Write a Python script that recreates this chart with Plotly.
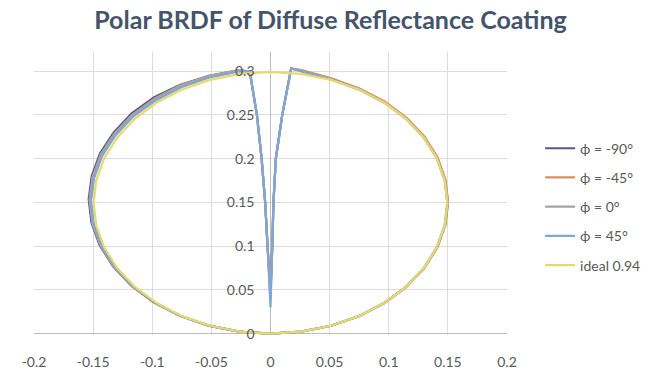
import numpy as np
import plotly.graph_objects as go

# Viewing angle theta (degrees from surface normal) for the measured scans
theta_meas = [-90, -85, -80, -75, -70, -65, -60, -55, -50, -45, -40, -35, -30, -25, -20, -15, -10, -5,
              -3.34, -2.63, -2.15, -1.72, -1.43, 0, 0.86, 0.95, 1.29, 2.27, 3.30,
              5, 10, 15, 20, 25, 30, 35, 40, 45, 50, 55, 60, 65, 70, 75, 80, 85, 90]

# BRDF values (1/sr) for each azimuth phi
brdf_phi_m90 = [0.306, 0.306, 0.307, 0.307, 0.3075, 0.3075, 0.3075, 0.3075, 0.3075, 0.3075, 0.307, 0.307,
                0.3065, 0.3065, 0.306, 0.305, 0.304, 0.3035,
                0.3005, 0.2503, 0.2001, 0.1501, 0.1000, 0.050, 0.1000, 0.1501, 0.2001, 0.2503, 0.3041,
                0.303, 0.3005, 0.300, 0.300, 0.300, 0.300, 0.300, 0.300, 0.300, 0.300, 0.300, 0.300,
                0.2995, 0.2995, 0.2995, 0.2995, 0.2995, 0.2995]
brdf_phi_m45 = [0.3045, 0.3045, 0.3055, 0.3055, 0.306, 0.306, 0.306, 0.306, 0.306, 0.306, 0.3055, 0.3055,
                0.305, 0.305, 0.3045, 0.3045, 0.304, 0.3035,
                0.3005, 0.2503, 0.2001, 0.1501, 0.1000, 0.045, 0.1000, 0.1501, 0.2001, 0.2503, 0.3041,
                0.3035, 0.301, 0.3005, 0.3005, 0.3005, 0.3005, 0.3005, 0.3005, 0.3005, 0.3005, 0.3005, 0.3005,
                0.300, 0.300, 0.300, 0.300, 0.300, 0.300]
brdf_phi_0 = [0.304, 0.304, 0.305, 0.305, 0.3055, 0.3055, 0.3055, 0.3055, 0.3055, 0.3055, 0.305, 0.305,
              0.3045, 0.3045, 0.304, 0.304, 0.3035, 0.3035,
              0.3005, 0.2503, 0.2001, 0.1501, 0.1000, 0.040, 0.1000, 0.1501, 0.2001, 0.2503, 0.3041,
              0.3025, 0.300, 0.2995, 0.2995, 0.2995, 0.2995, 0.2995, 0.2995, 0.2995, 0.2995, 0.2995, 0.2995,
              0.299, 0.299, 0.299, 0.299, 0.299, 0.299]
brdf_phi_45 = [0.302, 0.302, 0.303, 0.303, 0.3035, 0.3035, 0.3035, 0.3035, 0.3035, 0.3035, 0.303, 0.303,
               0.3025, 0.3025, 0.302, 0.302, 0.302, 0.302,
               0.3005, 0.2503, 0.2001, 0.1501, 0.1000, 0.030, 0.1000, 0.1501, 0.2001, 0.2503, 0.3041,
               0.302, 0.2995, 0.299, 0.299, 0.299, 0.299, 0.299, 0.299, 0.299, 0.299, 0.299, 0.299,
               0.2985, 0.2985, 0.2985, 0.2985, 0.2985, 0.2985]

# Ideal Lambertian reflector with reflectance 0.94 (BRDF = 0.94/pi)
theta_ideal = [-90, -85, -80, -75, -70, -65, -60, -55, -50, -45, -40, -35, -30, -25, -20, -15, -10, -5, 0,
               5, 10, 15, 20, 25, 30, 35, 40, 45, 50, 55, 60, 65, 70, 75, 80, 85, 90]
brdf_ideal = [0.2992, 0.2992, 0.2992, 0.2992, 0.2992, 0.2992, 0.2992, 0.2992, 0.2992, 0.2992,
              0.2992, 0.2992, 0.2992, 0.2992, 0.2992, 0.2992, 0.2992, 0.2992, 0.2992,
              0.2992, 0.2992, 0.2992, 0.2992, 0.2992, 0.2992, 0.2992, 0.2992, 0.2992,
              0.2992, 0.2992, 0.2992, 0.2992, 0.2992, 0.2992, 0.2992, 0.2992, 0.2992]

series_names = ["ϕ = -90°", "ϕ = -45°", "ϕ = 0°", "ϕ = 45°", "ideal 0.94"]
series_colors = ["#55578F", "#D9925E", "#A3A3AD", "#7FA7D6", "#E8DA6A"]

x_tickvals = [-0.2, -0.15, -0.1, -0.05, 0, 0.05, 0.1, 0.15, 0.2]
x_ticktext = ["-0.2", "-0.15", "-0.1", "-0.05", "0", "0.05", "0.1", "0.15", "0.2"]
y_tickvals = [0, 0.05, 0.1, 0.15, 0.2, 0.25, 0.3]
y_ticktext = ["0", "0.05", "0.1", "0.15", "0.2", "0.25", "0.3"]


def polar_xy(theta_deg, brdf):
    t = np.radians(np.array(theta_deg, dtype=float))
    r = np.array(brdf, dtype=float) * np.cos(t)  # projected (cosine-weighted) radius
    return r * np.sin(t), r * np.cos(t)


data_sets = [
    (theta_meas, brdf_phi_m90),
    (theta_meas, brdf_phi_m45),
    (theta_meas, brdf_phi_0),
    (theta_meas, brdf_phi_45),
    (theta_ideal, brdf_ideal),
]

fig = go.Figure()
for i, ((th, b), name, col) in enumerate(zip(data_sets, series_names, series_colors)):
    x, y = polar_xy(th, b)
    fig.add_trace(go.Scatter(
        x=x, y=y, mode="lines", name=name, legendgroup=f"g{i}",
        line=dict(color=col, width=2.2),
    ))

tick_font = dict(family="Lato", size=14, color="#595959")

fig.update_layout(
    width=661, height=382,
    paper_bgcolor="white", plot_bgcolor="white",
    margin=dict(l=34, r=154, t=52, b=41),
    title=dict(
        text="Polar BRDF of Diffuse Reflectance Coating",
        font=dict(family="Lato", size=25, color="#44546A", weight="bold"),
        x=0.5, xref="container", xanchor="center",
        y=1 - 20 / 382, yref="container", yanchor="middle",
    ),
    xaxis=dict(
        range=[-0.2, 0.2], domain=[0, 1],
        tickvals=x_tickvals, ticktext=x_ticktext,
        showgrid=True, gridcolor="#DDDDDD", gridwidth=1,
        zeroline=True, zerolinecolor="#BDBDBD", zerolinewidth=1,
        showline=False, ticks="", tickfont=tick_font,
        ticklabelstandoff=17, fixedrange=True,
    ),
    yaxis=dict(
        range=[-0.0015, 0.322],
        anchor="free", position=0.5,
        tickvals=y_tickvals, ticktext=y_ticktext,
        showgrid=True, gridcolor="#DDDDDD", gridwidth=1,
        zeroline=True, zerolinecolor="#BDBDBD", zerolinewidth=1,
        showline=False, ticks="", tickfont=tick_font,
        ticklabelstandoff=16, fixedrange=True,
    ),
    legend=dict(
        x=1.07, xanchor="left", y=0.715, yanchor="top",
        font=dict(family="Lato", size=14, color="#595959"),
        tracegroupgap=8, bgcolor="rgba(0,0,0,0)",
        itemwidth=30,
    ),
    showlegend=True,
)

# remove the browser's default 8 px body margin so the figure fills the window exactly
fig.write_html(
    "out.html",
    config={"displayModeBar": False, "staticPlot": False},
    post_script="document.body.style.margin='0';",
)
